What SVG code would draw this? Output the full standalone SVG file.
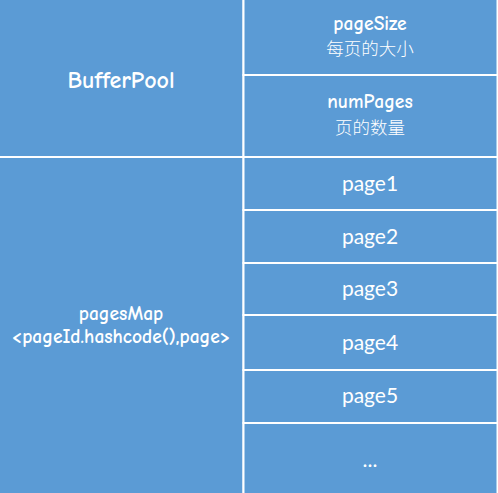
<svg xmlns="http://www.w3.org/2000/svg" width="498" height="493" viewBox="0 0 498 493">
<style>
.cell{fill:#5b9bd5;stroke:#ffffff;stroke-width:2}
.t{fill:#ffffff;text-anchor:middle;font-family:"Open Sans","Noto Sans CJK SC",sans-serif}
.c{font-family:"Comic Neue","Open Sans","Noto Sans CJK SC",sans-serif;font-size:19.5px;font-weight:bold}
.z{font-family:"Noto Sans CJK SC",sans-serif;font-size:17.5px;font-weight:300}
.p{font-family:Lato,"Open Sans",sans-serif;font-size:21px}
</style>
<rect x="0" y="0" width="498" height="493" fill="#5b9bd5"/>
<g id="bufferpool"><rect class="cell" x="-1" y="-1" width="244.5" height="158"/><text class="t c" x="121" y="88" style="font-size:24px;font-weight:900">BufferPool</text></g>
<g id="pageSize"><rect class="cell" x="243.5" y="-1" width="254" height="76"/><text class="t c" x="370" y="30">pageSize</text><text class="t z" x="370" y="55">每页的大小</text></g>
<g id="numPages"><rect class="cell" x="243.5" y="75" width="254" height="82"/><text class="t c" x="370" y="108">numPages</text><text class="t z" x="370" y="134">页的数量</text></g>
<g id="pagesMap"><rect class="cell" x="-1" y="157" width="244.5" height="337"/><text class="t c" x="121" y="320">pagesMap</text><text class="t c" x="121" y="343">&lt;pageId.hashcode(),page&gt;</text></g>
<g id="page1"><rect class="cell" x="243.5" y="157" width="254" height="53"/><text class="t p" x="370" y="191">page1</text></g>
<g id="page2"><rect class="cell" x="243.5" y="210" width="254" height="53"/><text class="t p" x="370" y="244">page2</text></g>
<g id="page3"><rect class="cell" x="243.5" y="263" width="254" height="52"/><text class="t p" x="370" y="296">page3</text></g>
<g id="page4"><rect class="cell" x="243.5" y="315" width="254" height="55"/><text class="t p" x="370" y="350">page4</text></g>
<g id="page5"><rect class="cell" x="243.5" y="370" width="254" height="53"/><text class="t p" x="370" y="403">page5</text></g>
<g id="more"><rect class="cell" x="243.5" y="423" width="254" height="71"/><text class="t p" x="370" y="467">...</text></g>
<g id="connectors"></g>
</svg>
